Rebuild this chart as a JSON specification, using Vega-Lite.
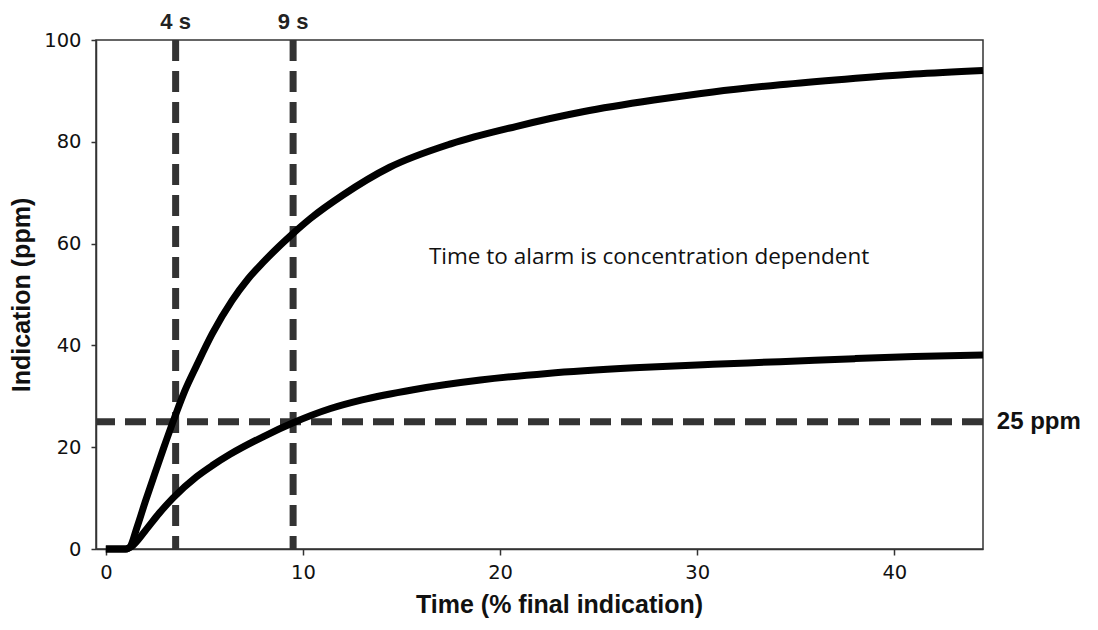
{
  "$schema": "https://vega.github.io/schema/vega-lite/v6.json",
  "width": 887,
  "height": 509,
  "autosize": {"type": "none"},
  "padding": {"left": 96, "top": 40, "right": 115, "bottom": 81},
  "background": "white",
  "view": {"stroke": "#333", "strokeWidth": 1.5},
  "config": {
    "axis": {
      "domainColor": "#333",
      "domainWidth": 1.5,
      "tickColor": "#333",
      "tickWidth": 1.5,
      "grid": false,
      "labelFont": "DejaVu Sans",
      "labelFontSize": 19.5,
      "labelColor": "#111",
      "titleFont": "Liberation Sans",
      "titleFontSize": 25,
      "titleFontWeight": "bold",
      "titleColor": "#111"
    }
  },
  "datasets": {
    "curves": [
      {"t": 0, "ppm": 0, "series": "high"},
      {"t": 1.0, "ppm": 0, "series": "high"},
      {"t": 1.2, "ppm": 0.3, "series": "high"},
      {"t": 1.6, "ppm": 4.5, "series": "high"},
      {"t": 2.0, "ppm": 9.3, "series": "high"},
      {"t": 2.5, "ppm": 15, "series": "high"},
      {"t": 2.9, "ppm": 19.5, "series": "high"},
      {"t": 3.55, "ppm": 26.5, "series": "high"},
      {"t": 4.0, "ppm": 31, "series": "high"},
      {"t": 4.6, "ppm": 36, "series": "high"},
      {"t": 5.4, "ppm": 42.3, "series": "high"},
      {"t": 6.4, "ppm": 48.8, "series": "high"},
      {"t": 7.2, "ppm": 53, "series": "high"},
      {"t": 8.0, "ppm": 56.4, "series": "high"},
      {"t": 9.5, "ppm": 62, "series": "high"},
      {"t": 10.4, "ppm": 65, "series": "high"},
      {"t": 12.05, "ppm": 69.6, "series": "high"},
      {"t": 14.4, "ppm": 75.0, "series": "high"},
      {"t": 17.5, "ppm": 79.6, "series": "high"},
      {"t": 20.8, "ppm": 83.0, "series": "high"},
      {"t": 24.2, "ppm": 85.9, "series": "high"},
      {"t": 27.8, "ppm": 88.2, "series": "high"},
      {"t": 30.8, "ppm": 89.8, "series": "high"},
      {"t": 34.2, "ppm": 91.2, "series": "high"},
      {"t": 37.5, "ppm": 92.3, "series": "high"},
      {"t": 41.0, "ppm": 93.3, "series": "high"},
      {"t": 44.5, "ppm": 94.0, "series": "high"},
      {"t": 0, "ppm": 0, "series": "low"},
      {"t": 1.0, "ppm": 0, "series": "low"},
      {"t": 1.3, "ppm": 0.5, "series": "low"},
      {"t": 2.0, "ppm": 3.6, "series": "low"},
      {"t": 2.7, "ppm": 7, "series": "low"},
      {"t": 3.4, "ppm": 10.0, "series": "low"},
      {"t": 4.6, "ppm": 14.2, "series": "low"},
      {"t": 5.4, "ppm": 16.4, "series": "low"},
      {"t": 6.3, "ppm": 18.6, "series": "low"},
      {"t": 8.0, "ppm": 22.1, "series": "low"},
      {"t": 9.5, "ppm": 24.8, "series": "low"},
      {"t": 11.4, "ppm": 27.6, "series": "low"},
      {"t": 13.0, "ppm": 29.3, "series": "low"},
      {"t": 15.6, "ppm": 31.3, "series": "low"},
      {"t": 19.0, "ppm": 33.2, "series": "low"},
      {"t": 22.4, "ppm": 34.5, "series": "low"},
      {"t": 26.8, "ppm": 35.6, "series": "low"},
      {"t": 30.8, "ppm": 36.3, "series": "low"},
      {"t": 34.2, "ppm": 36.8, "series": "low"},
      {"t": 38.0, "ppm": 37.4, "series": "low"},
      {"t": 41.0, "ppm": 37.8, "series": "low"},
      {"t": 44.5, "ppm": 38.1, "series": "low"}
    ],
    "vlines": [
      {"t": 3.54, "label": "4 s"},
      {"t": 9.5, "label": "9 s"}
    ],
    "hlines": [
      {"ppm": 25, "label": "25 ppm"}
    ],
    "notes": [
      {"note": "Time to alarm is concentration dependent"}
    ]
  },
  "layer": [
    {
      "data": {"name": "vlines"},
      "mark": {"type": "rule", "color": "#333", "strokeWidth": 7, "strokeDash": [21, 10]},
      "encoding": {
        "x": {"field": "t", "type": "quantitative",
              "scale": {"domain": [-0.5, 44.5], "nice": false, "zero": false},
              "axis": {"values": [0, 10, 20, 30, 40], "title": "Time (% final indication)", "tickSize": 6, "labelPadding": 8, "titlePadding": 11, "titleX": 463}}
      }
    },
    {
      "data": {"name": "hlines"},
      "mark": {"type": "rule", "color": "#333", "strokeWidth": 7, "strokeDash": [21, 10]},
      "encoding": {
        "y": {"field": "ppm", "type": "quantitative",
              "scale": {"domain": [0, 100], "nice": false},
              "axis": {"values": [0, 20, 40, 60, 80, 100], "title": "Indication (ppm)", "tickSize": 5, "labelPadding": 10, "titlePadding": 9}}
      }
    },
    {
      "data": {"name": "curves"},
      "mark": {"type": "line", "color": "black", "strokeWidth": 7, "interpolate": "monotone", "strokeCap": "butt", "strokeJoin": "round"},
      "encoding": {
        "x": {"field": "t", "type": "quantitative"},
        "y": {"field": "ppm", "type": "quantitative"},
        "detail": {"field": "series"}
      }
    },
    {
      "data": {"name": "vlines"},
      "mark": {"type": "text", "font": "Liberation Sans", "fontWeight": "bold", "fontSize": 22, "color": "#222", "align": "center", "baseline": "middle"},
      "encoding": {
        "x": {"field": "t", "type": "quantitative"},
        "y": {"datum": 103.5},
        "text": {"field": "label"}
      }
    },
    {
      "data": {"name": "hlines"},
      "mark": {"type": "text", "font": "Liberation Sans", "fontWeight": "bold", "fontSize": 24, "color": "#111", "align": "left", "baseline": "middle"},
      "encoding": {
        "x": {"datum": 45.2},
        "y": {"field": "ppm", "type": "quantitative"},
        "text": {"field": "label"}
      }
    },
    {
      "data": {"name": "notes"},
      "mark": {"type": "text", "font": "Open Sans", "fontSize": 22.5, "color": "#111", "align": "center", "baseline": "middle"},
      "encoding": {
        "x": {"datum": 27.56},
        "y": {"datum": 57.4},
        "text": {"field": "note"}
      }
    }
  ]
}
